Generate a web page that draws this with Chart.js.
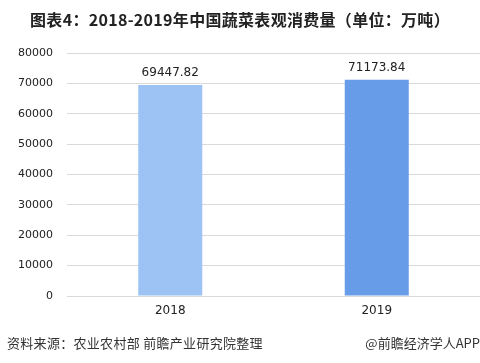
<!DOCTYPE html>
<html>
<head>
<meta charset="utf-8">
<script src="https://cdn.jsdelivr.net/npm/chart.js@4/dist/chart.umd.min.js"></script>
<style>
  html, body { margin: 0; padding: 0; background: #fff; }
  #wrap { position: relative; width: 480px; height: 363px; overflow: hidden; }
  #title { position: absolute; left: 0; top: 7px; width: 480px; text-align: center; letter-spacing: 0.3px;
    font: bold 16px "Microsoft YaHei", "Noto Sans CJK SC", sans-serif; color: #222; white-space: nowrap; }
  #src { position: absolute; left: 7px; top: 333px; letter-spacing: 0.3px; font: 13px "Noto Sans CJK SC", sans-serif; color: #333; white-space: nowrap; }
  #app { position: absolute; right: 0; top: 333px; font: 13px "Noto Sans CJK SC", sans-serif; color: #333; white-space: nowrap; }
  canvas { position: absolute; left: 0; top: 0; }
</style>
</head>
<body>
<div id="wrap">
  <canvas id="c" width="480" height="363"></canvas>
  <div id="title">图表4：2018-2019年中国蔬菜表观消费量（单位：万吨）</div>
  <div id="src">资料来源：农业农村部 前瞻产业研究院整理</div>
  <div id="app">@前瞻经济学人APP</div>
</div>
<script>
const categories = ["2018", "2019"];
const consumption = [69447.82, 71173.84];
const barColors = ["#9DC3F5", "#679DE8"];
const yTicks = [0, 10000, 20000, 30000, 40000, 50000, 60000, 70000, 80000];

const labelPlugin = {
  id: 'barLabels',
  afterDatasetsDraw(chart) {
    const ctx = chart.ctx;
    const meta = chart.getDatasetMeta(0);
    ctx.save();
    ctx.font = '12px "DejaVu Sans", "Noto Sans", sans-serif';
    ctx.fillStyle = '#222';
    ctx.textAlign = 'center';
    ctx.textBaseline = 'bottom';
    meta.data.forEach((bar, i) => {
      ctx.fillText(consumption[i].toFixed(2), bar.x, bar.y - 6);
    });
    ctx.restore();
  }
};

new Chart(document.getElementById('c'), {
  type: 'bar',
  data: {
    labels: categories,
    datasets: [{
      data: consumption,
      backgroundColor: barColors,
      borderWidth: 0,
      borderSkipped: false,
      categoryPercentage: 0.62,
      barPercentage: 0.5
    }]
  },
  options: {
    responsive: false,
    animation: false,
    devicePixelRatio: 1,
    layout: { padding: { top: 53, bottom: 37, left: 0, right: 0 } },
    plugins: { legend: { display: false }, tooltip: { enabled: false }, title: { display: false } },
    scales: {
      x: {
        grid: { display: false, drawTicks: false },
        border: { display: true, color: '#d9d9d9', width: 1 },
        ticks: { color: '#222', font: { size: 12, family: '"DejaVu Sans", "Noto Sans", sans-serif' }, padding: 8 },
        afterFit(scale) { scale.height = 30; }
      },
      y: {
        min: 0, max: 80000,
        afterBuildTicks(scale) { scale.ticks = yTicks.map(v => ({ value: v })); },
        grid: { color: '#d9d9d9', drawTicks: false, lineWidth: 1 },
        border: { display: false },
        ticks: { color: '#222', font: { size: 11, family: '"DejaVu Sans", "Noto Sans", sans-serif' }, padding: 14,
          callback: v => String(v) },
        afterFit(scale) { scale.width = 67; }
      }
    }
  },
  plugins: [labelPlugin]
});
</script>
</body>
</html>
